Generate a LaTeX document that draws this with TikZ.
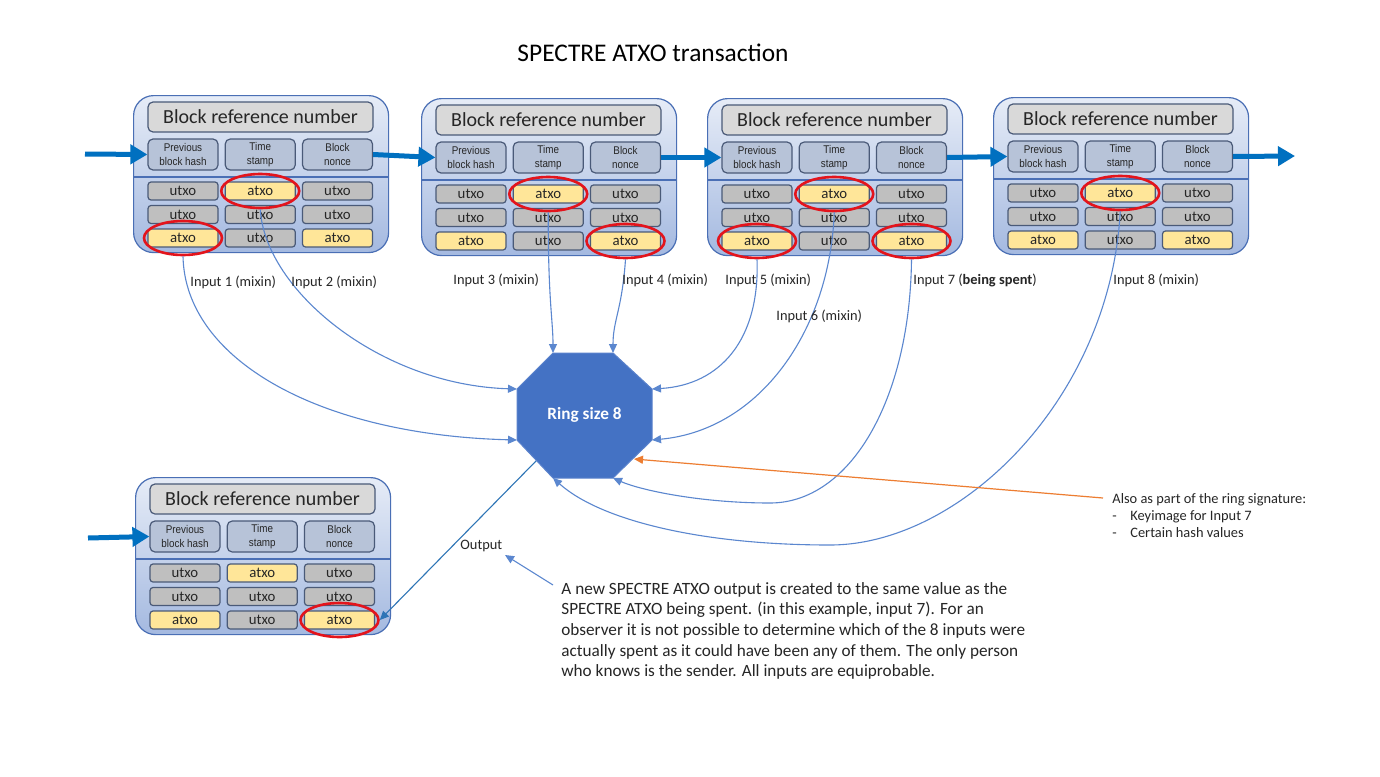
\documentclass[tikz,border=0pt]{standalone}
\usepackage{fontspec}
\setmainfont{Carlito}
\newfontfamily\arialn[FakeStretch=0.88]{Liberation Sans}
\usetikzlibrary{arrows.meta,shapes.geometric,calc}
\definecolor{blockBorder}{HTML}{4A6FB5}
\definecolor{blockTop}{HTML}{E6ECF7}
\definecolor{blockBot}{HTML}{A4B9E0}
\definecolor{slate}{HTML}{4A5A78}
\definecolor{headF}{HTML}{D9D9D9}
\definecolor{subF}{HTML}{B7C3D8}
\definecolor{cellfillu}{HTML}{BFBFBF}
\definecolor{cellfilla}{HTML}{FFE699}
\definecolor{ringRed}{HTML}{E3141C}
\definecolor{connBlue}{HTML}{5B87CF}
\definecolor{arrowBlue}{HTML}{0070C0}
\definecolor{octBlue}{HTML}{4472C4}
\definecolor{octEdge}{HTML}{5A82CC}
\definecolor{orangeL}{HTML}{ED7D31}
\definecolor{outBlue}{HTML}{2E75B6}
\definecolor{txt}{HTML}{262626}
\def\txtu{utxo}\def\txta{atxo}
\newcommand{\spblock}[4]{%
  \node[blockbox] (#1-box) at (#2,#3) {};
  \draw[blockBorder, line width=0.6pt] (#2,#3) ++(0,82) -- ++(255,0);
  \node[headbox] (#1-h) at ($(#2,#3)+(127.5,22)$) {Block reference number};
  \node[subbox] (#1-p) at ($(#2,#3)+(50,59.5)$) {Previous\\block hash};
  \node[subbox] (#1-t) at ($(#2,#3)+(127.25,59.5)$) {Time\\stamp};
  \node[subbox] (#1-n) at ($(#2,#3)+(204.5,59.5)$) {Block\\nonce};
  \foreach \ty [count=\i from 0] in {#4} {
    \pgfmathtruncatemacro\cc{mod(\i,3)}
    \pgfmathtruncatemacro\rr{int(\i/3)}
    \pgfmathsetmacro\cx{#2+50+77.25*\cc}
    \pgfmathsetmacro\cy{#3+96+23.5*\rr}
    \node[cell=\ty] (#1-\i) at (\cx,\cy) {\csname txt\ty\endcsname};
  }
}
\begin{document}
\begin{tikzpicture}[x=0.5pt,y=-0.5pt,
  blockbox/.style={draw=blockBorder, line width=0.6pt, rounded corners=10pt, top color=blockTop, bottom color=blockBot, minimum width=127.5pt, minimum height=78.5pt, inner sep=0pt, anchor=north west},
  headbox/.style={draw=slate, line width=0.6pt, fill=headF, rounded corners=2.5pt, minimum width=112.5pt, minimum height=15pt, inner sep=0pt, text=txt, font=\fontsize{10}{12}\selectfont},
  subbox/.style={draw=slate, line width=0.6pt, fill=subF, rounded corners=2.5pt, minimum width=35pt, minimum height=15.5pt, inner sep=0pt, align=center, text=txt, font=\arialn\fontsize{5.6}{7}\selectfont},
  cell/.style={draw=slate, line width=0.6pt, fill=cellfill#1, rounded corners=1.5pt, minimum width=35pt, minimum height=9pt, inner sep=0pt, text=txt, font=\fontsize{7.4}{8}\selectfont},
  redring/.style={ellipse, draw=ringRed, line width=1.3pt, minimum width=39pt, minimum height=17pt, inner sep=0pt},
  conn/.style={draw=connBlue, line width=0.55pt, -{Triangle[length=4.5pt,width=4pt]}},
  bigarrow/.style={draw=arrowBlue, line width=2.5pt, -{Triangle[length=8.5pt,width=9.5pt]}},
  lbl/.style={font=\fontsize{7.2}{8.6}\selectfont, inner sep=0pt, anchor=west, text=txt}
]
\fill[white] (0,0) rectangle (1380,776);
\useasboundingbox (0,0) rectangle (1380,776);

% title
\node[font=\fontsize{12.7}{15}\selectfont, text=black] (title) at (653,53) {SPECTRE ATXO transaction};

% blocks
\spblock{b1}{133}{95}{u,a,u,u,u,u,a,u,a}
\spblock{b2}{421}{98}{u,a,u,u,u,u,a,u,a}
\spblock{b3}{707}{98}{u,a,u,u,u,u,a,u,a}
\spblock{b4}{993}{97}{u,a,u,u,u,u,a,u,a}
\spblock{bo}{135}{477}{u,a,u,u,u,u,a,u,a}

% chain arrows
\coordinate (cin) at (85,154);
\coordinate (cout) at (1295,156);
\coordinate (oin) at (88,538);
\draw[bigarrow] (cin) -- (b1-p.west);
\draw[bigarrow] (b1-n.east) -- (b2-p.west);
\draw[bigarrow] (b2-n.east) -- (b3-p.west);
\draw[bigarrow] (b3-n.east) -- (b4-p.west);
\draw[bigarrow] (b4-n.east) -- (cout);
\draw[bigarrow] (oin) -- (bo-p.west);

% octagon
\coordinate (o1) at (553,353);
\coordinate (o2) at (613,353);
\coordinate (o3) at (652,389);
\coordinate (o4) at (652,440);
\coordinate (o5) at (613,478);
\coordinate (o6) at (553,478);
\coordinate (o7) at (517,440);
\coordinate (o8) at (517,389);
\filldraw[fill=octBlue, draw=octEdge, line width=0.5pt] (o1) -- (o2) -- (o3) -- (o4) -- (o5) -- (o6) -- (o7) -- (o8) -- cycle;
\node[text=white, font=\bfseries\fontsize{8.6}{10}\selectfont] (ring) at (584.5,415) {Ring size 8};

% red rings
\node[redring] (r11) at (b1-1) {};
\node[redring] (r16) at (b1-6) {};
\node[redring] (r21) at (b2-1) {};
\node[redring] (r28) at (b2-8) {};
\node[redring] (r31) at (b3-1) {};
\node[redring] (r36) at (b3-6) {};
\node[redring] (r38) at (b3-8) {};
\node[redring] (r41) at (b4-1) {};
\node[redring] (ro8) at (bo-8) {};

% connectors
\draw[conn] (r16.south) .. controls (185,360) and (320,435) .. (o7);
\draw[conn] (r11.south) .. controls (265,290) and (380,385) .. (o8);
\draw[conn] (r21.south) .. controls (548,300) and (553,320) .. (o1);
\draw[conn] (r28.south) .. controls (622,310) and (613,320) .. (o2);
\draw[conn] (r36.south) .. controls (760,340) and (720,385) .. (o3);
\draw[conn] (r31.south) .. controls (830,330) and (760,430) .. (o4);
\draw[conn] (r38.south) .. controls (910,400) and (850,503) .. (770,503) .. controls (700,503) and (640,490) .. (o5);
\draw[conn] (r41.south) .. controls (1110,400) and (960,545) .. (830,545) .. controls (700,545) and (600,520) .. (o6);

% input labels
\node[lbl] (l1) at (190,282) {Input 1 (mixin)};
\node[lbl] (l2) at (291,282) {Input 2 (mixin)};
\node[lbl] (l3) at (453,280) {Input 3 (mixin)};
\node[lbl] (l4) at (622,280) {Input 4 (mixin)};
\node[lbl] (l5) at (725,280) {Input 5 (mixin)};
\node[lbl] (l6) at (776,316) {Input 6 (mixin)};
\node[lbl] (l7) at (913,280) {Input 7 (\textbf{being spent})};
\node[lbl] (l8) at (1113,280) {Input 8 (mixin)};

% output
\coordinate (oout) at (536,461);
\draw[draw=outBlue, line width=0.55pt, -{Triangle[length=4.5pt,width=4pt]}] (oout) -- (ro8.east);
\node[lbl] (outlbl) at (460,546) {Output};

% paragraph
\node[font=\fontsize{8.6}{10.3}\selectfont, text=txt, align=left, anchor=north west, inner sep=0pt] (para) at (561,582) {A new SPECTRE ATXO output is created to the same value as the\\SPECTRE ATXO being spent. (in this example, input 7). For an\\observer it is not possible to determine which of the 8 inputs were\\actually spent as it could have been any of them. The only person\\who knows is the sender. All inputs are equiprobable.};
\coordinate (pa) at (553,585);
\coordinate (pb) at (505,555);
\draw[conn] (pa) -- (pb);

% ring signature note
\node[font=\fontsize{7.2}{8.4}\selectfont, text=txt, align=left, anchor=north west, inner sep=0pt] (note) at (1112,493) {Also as part of the ring signature:\\\makebox[9pt][l]{-}Keyimage for Input 7\\\makebox[9pt][l]{-}Certain hash values};
\coordinate (ns) at (1103,498);
\coordinate (ne) at (634,459);
\draw[draw=orangeL, line width=0.6pt, -{Triangle[length=4.5pt,width=4pt]}] (ns) -- (ne);
\end{tikzpicture}
\end{document}
